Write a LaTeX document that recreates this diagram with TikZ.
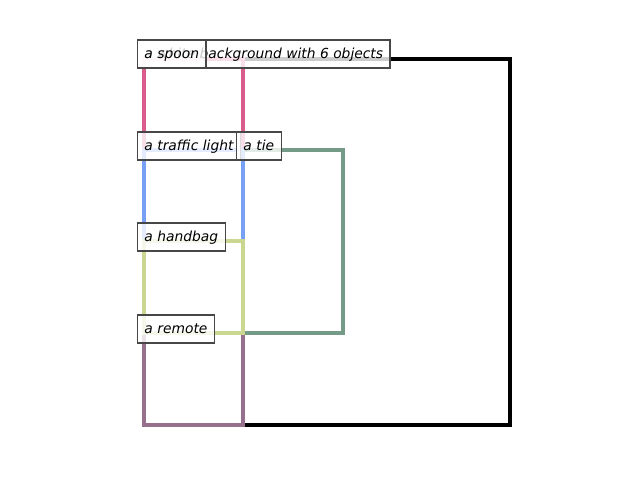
\documentclass[tikz,border=0pt]{standalone}
\usepackage{fontspec}
\setmainfont{DejaVu Sans}
\begin{document}
\begin{tikzpicture}[x=0.01in,y=-0.01in,
  bbox/.style={line width=2.3pt},
  lbl/.style={anchor=west,fill=white,fill opacity=0.8,text opacity=1,draw=black!72,line width=0.8pt,
    text height=13pt,text depth=7.16pt,inner xsep=5pt,inner ysep=0pt,font=\fontsize{10}{12}\selectfont\itshape}]
\definecolor{cspoon}{RGB}{218,92,140}
\definecolor{ctraffic}{RGB}{120,160,245}
\definecolor{chandbag}{RGB}{202,215,145}
\definecolor{cremote}{RGB}{150,112,140}
\definecolor{ctie}{RGB}{115,155,135}
\useasboundingbox (0,0) rectangle (640,480);
\coordinate (bg1) at (144,59); \coordinate (bg2) at (510,425);
\draw[bbox,black] (bg1) rectangle (bg2);
\coordinate (r1) at (144,333); \coordinate (r2) at (243,425);
\draw[bbox,cremote] (r1) rectangle (r2);
\coordinate (t1) at (243,150); \coordinate (t2) at (343,333);
\draw[bbox,ctie] (t1) rectangle (t2);
\coordinate (s1) at (144,59); \coordinate (s2) at (243,150);
\draw[bbox,cspoon] (s1) rectangle (s2);
\coordinate (l1) at (144,150); \coordinate (l2) at (243,241);
\draw[bbox,ctraffic] (l1) rectangle (l2);
\coordinate (h1) at (144,241); \coordinate (h2) at (243,333);
\draw[bbox,chandbag] (h1) rectangle (h2);
\node[lbl] (lbg) at (137,54) {a white background with 6 objects};
\node[lbl] (lspoon) at (137,54) {a spoon};
\node[lbl] (ltraffic) at (137,146) {a traffic light};
\node[lbl] (ltie) at (236,146) {a tie};
\node[lbl] (lhandbag) at (137,237) {a handbag};
\node[lbl] (lremote) at (137,329) {a remote};
\end{tikzpicture}
\end{document}
